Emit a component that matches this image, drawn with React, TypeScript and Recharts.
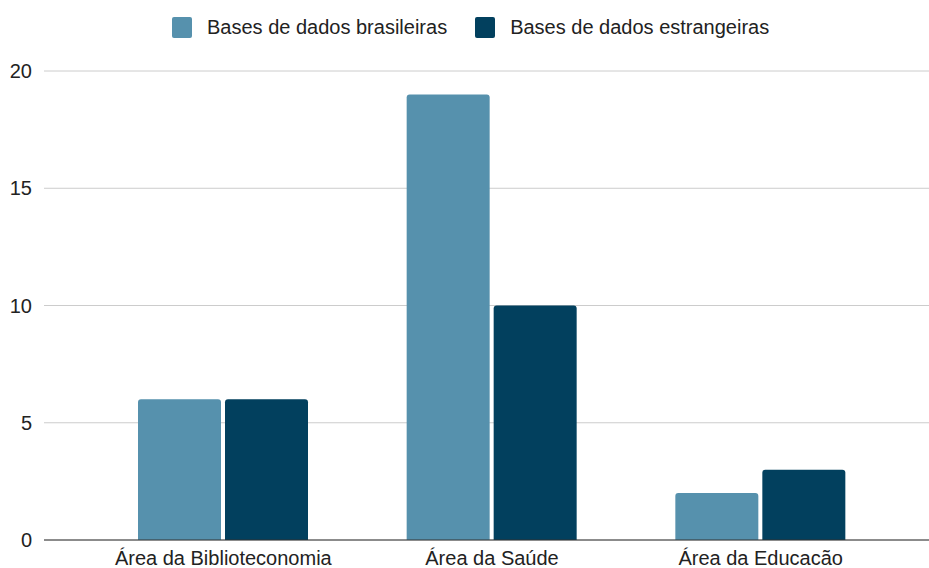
import { BarChart, Bar, XAxis, YAxis, CartesianGrid } from 'recharts'

const categories = ['Área da Biblioteconomia', 'Área da Saúde', 'Área da Educacão']
const brasileiras = [6, 19, 2]
const estrangeiras = [6, 10, 3]
const yTicks = [0, 5, 10, 15, 20]

const seriesNames = ['Bases de dados brasileiras', 'Bases de dados estrangeiras']
const seriesColors = ['#5691ad', '#02405e']

const data = categories.map((name, i) => ({
  name,
  brasileiras: brasileiras[i],
  estrangeiras: estrangeiras[i],
}))

const font = 'Arial, "Liberation Sans", sans-serif'

// legend sits above the plot, drawn outside the chart so it doesn't push the plot down
function TopLegend() {
  return (
    <div style={{ position: 'absolute', left: 172, top: 17, height: 21, display: 'flex', alignItems: 'center', fontFamily: font, fontSize: 20, color: '#222', whiteSpace: 'nowrap' }}>
      {seriesNames.map((n, i) => (
        <div key={n} style={{ display: 'flex', alignItems: 'center', marginRight: i === 0 ? 28 : 0 }}>
          <span style={{ width: 20, height: 21, background: seriesColors[i], borderRadius: 2, marginRight: 15, display: 'inline-block' }} />
          <span>{n}</span>
        </div>
      ))}
    </div>
  )
}

export default function App() {
  return (
    <div style={{ position: 'absolute', left: 0, top: 0, width: 929, height: 568, background: '#fff' }}>
      <TopLegend />
      <BarChart
        width={929}
        height={568}
        data={data}
        margin={{ top: 71, right: 0, left: 0, bottom: 0 }}
        barSize={83}
        barGap={4}
      >
        <CartesianGrid vertical={false} stroke="#cccccc" />
        <XAxis
          dataKey="name"
          axisLine={{ stroke: '#333' }}
          tickLine={false}
          tickSize={0}
          tickMargin={11}
          height={28}
          padding={{ left: 45, right: 34 }}
          tick={{ fill: '#222', fontSize: 20, fontFamily: font }}
        />
        <YAxis
          domain={[0, 20]}
          ticks={yTicks}
          axisLine={false}
          tickLine={false}
          tickSize={0}
          tickMargin={12}
          width={44}
          tick={{ fill: '#222', fontSize: 20, fontFamily: font }}
        />
        <Bar dataKey="brasileiras" name={seriesNames[0]} fill={seriesColors[0]} radius={[3, 3, 0, 0]} isAnimationActive={false} />
        <Bar dataKey="estrangeiras" name={seriesNames[1]} fill={seriesColors[1]} radius={[3, 3, 0, 0]} isAnimationActive={false} />
      </BarChart>
    </div>
  )
}
